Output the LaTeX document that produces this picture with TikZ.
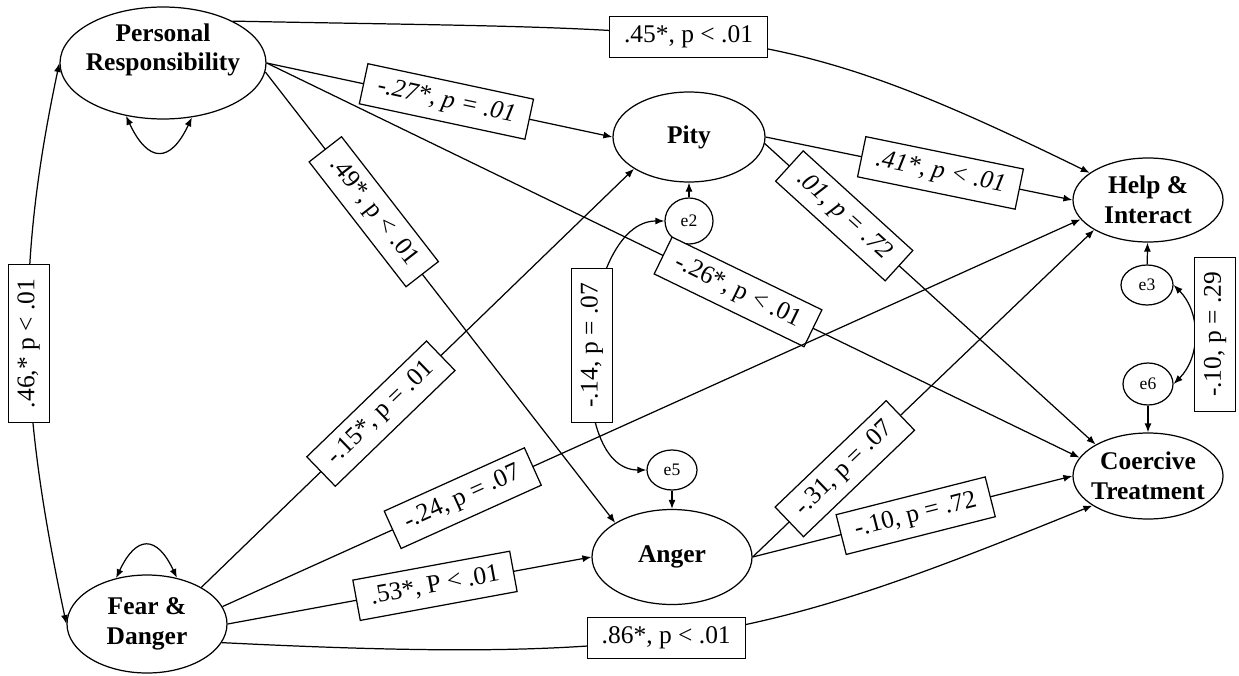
\documentclass[tikz,border=0pt]{standalone}
\usepackage{fontspec}
\setmainfont{Liberation Serif}
\usetikzlibrary{shapes.geometric,arrows.meta}

\tikzset{
    lat/.style={ellipse, draw, fill=white, align=center, inner xsep=-2mm, inner ysep=0pt, font=\fontsize{14.5}{17}\selectfont\bfseries},
    err/.style={ellipse, draw, fill=white, inner sep=0pt, font=\fontsize{10}{12}\selectfont},
    lbl/.style={rectangle, draw, fill=white, inner xsep=2.9mm, inner ysep=0pt, minimum height=8.2mm, font=\fontsize{14.5}{16}\selectfont},
    pfeil/.style={-{Latex[length=1.8mm,width=1.4mm]}},
    dpfeil/.style={{Latex[length=1.8mm,width=1.4mm]}-{Latex[length=1.8mm,width=1.4mm]}}
}

\begin{document}
\begin{tikzpicture}[x=0.2mm, y=0.2mm, line width=0.7pt]
    \useasboundingbox (0,0) rectangle (1239,-675);

    % Latente Variablen
    \node[lat, minimum width=41.2mm, minimum height=22mm, text depth=18pt] (resp) at (163,-63) {Personal\\Responsibility};
    \node[lat, minimum width=30.4mm, minimum height=18mm] (pity) at (689,-137) {Pity};
    \node[lat, minimum width=30mm, minimum height=16.8mm] (help) at (1148,-200) {Help \&\\Interact};
    \node[lat, minimum width=30mm, minimum height=17.2mm] (coerc) at (1148,-476) {Coercive\\Treatment};
    \node[lat, minimum width=32mm, minimum height=19mm] (anger) at (672,-557) {Anger};
    \node[lat, minimum width=32mm, minimum height=19.6mm] (fear) at (147,-624) {Fear \&\\Danger};

    % Fehlerterme
    \node[err, minimum width=9.6mm, minimum height=9.2mm] (e2) at (689,-221) {e2};
    \node[err, minimum width=10mm, minimum height=8mm] (e5) at (672,-470) {e5};
    \node[err, minimum width=10.4mm, minimum height=8mm] (e3) at (1147,-285) {e3};
    \node[err, minimum width=10mm, minimum height=8.4mm] (e6) at (1148,-384) {e6};

    % Pfade von Personal Responsibility
    \draw[pfeil] (resp.east) -- node[lbl, sloped, pos=0.52] {\textit{-.27*, p = .01}} (pity.west);
    \draw[pfeil] (resp.31) .. controls (733,-31) and (773,-18) .. node[lbl, pos=0.44] {.45*, p < .01} (help.155);
    \draw[pfeil] (resp.east) -- node[lbl, sloped, pos=0.58] {-.26*, p < .01} (coerc.165);
    \draw[pfeil] (resp.-5) -- node[lbl, sloped, pos=0.31] {.49*, p < .01} (anger.149);

    % Pfade von Pity
    \draw[pfeil] (pity.east) -- node[lbl, sloped, pos=0.57] {\textit{.41*, p < .01}} (help.west);
    \draw[pfeil] (pity.-5) -- node[lbl, sloped, pos=0.24] {\textit{.01, p = .72}} (coerc.149);

    % Pfade von Fear & Danger
    \draw[pfeil] (fear.34) -- node[lbl, sloped, pos=0.415] {-.15*, p = .01} (pity.210);
    \draw[pfeil] (fear.13) -- node[lbl, sloped, pos=0.28] {-.24, p = .07} (help.196);
    \draw[pfeil] (fear.east) -- node[lbl, sloped, pos=0.57] {.53*, P < .01} (anger.west);
    \draw[pfeil] (fear.-14) .. controls (673,-665) and (763,-639) .. node[lbl, pos=0.45] {.86*, p < .01} (coerc.208);

    % Pfade von Anger
    \draw[pfeil] (anger.east) -- node[lbl, sloped, pos=0.27] {-.31, p = .07} (help.209);
    \draw[pfeil] (anger.east) -- node[lbl, sloped, pos=0.51] {-.10, p = .72} (coerc.west);

    % Fehlerpfade
    \draw[pfeil] (e2) -- (pity);
    \draw[pfeil] (e5) -- (anger);
    \draw[pfeil] (e3) -- (help);
    \draw[pfeil] (e6) -- (coerc);

    % Kovarianzen
    \draw[dpfeil] (resp.west) to[out=258, in=102] node[lbl, rotate=90] {.46,* p < .01} (fear.west);
    \draw[dpfeil] (resp.235) to[out=-65, in=-115, looseness=2] (resp.298);
    \draw[dpfeil] (fear.124) to[out=65, in=115, looseness=2] (fear.57);
    \draw[dpfeil] (e2.west) to[out=180, in=180, looseness=0.87] node[lbl, rotate=90] {-.14, p = .07} (e5.west);
    \draw[dpfeil] (e3.east) to[out=-45, in=45] node[lbl, rotate=90, anchor=north] {-.10, p = .29} (e6.east);
\end{tikzpicture}
\end{document}
